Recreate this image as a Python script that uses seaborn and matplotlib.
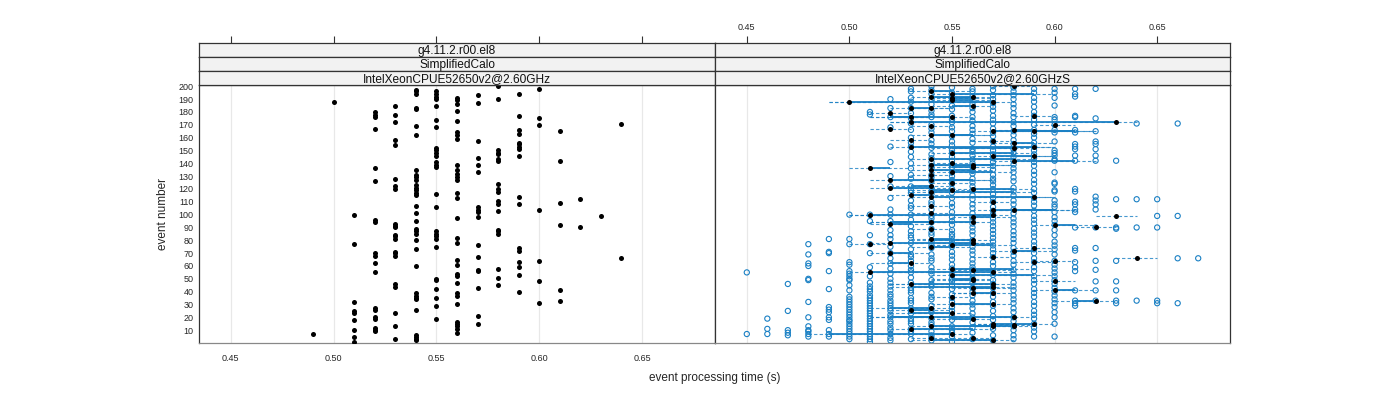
import pandas as pd
import seaborn as sns
import matplotlib.pyplot as plt

# ---- reference host (left panel): event numbers seen at each time column ----
left_times = [0.49, 0.50, 0.51, 0.52, 0.53, 0.54, 0.55, 0.56,
              0.57, 0.58, 0.59, 0.60, 0.61, 0.62, 0.63, 0.64]
left_events = [
    [7],
    [188],
    [100, 77, 32, 25, 23, 18, 10, 5, 1],
    [180, 178, 176, 167, 136, 126, 96, 94, 70, 68, 62, 55, 27, 26, 20, 19, 12, 10, 9],
    [185, 178, 172, 158, 154, 128, 122, 120, 93, 91, 90, 84, 83, 81, 71, 70, 68, 46, 44, 23, 13, 3],
    [197, 196, 194, 183, 182, 169, 162, 135, 131, 129, 127, 123, 121, 119, 117, 115, 107, 101,
     95, 89, 87, 85, 80, 73, 60, 39, 37, 35, 34, 26, 6, 5, 3, 2],
    [196, 194, 192, 190, 185, 174, 168, 152, 150, 148, 146, 141, 139, 137, 116, 106,
     87, 85, 83, 81, 75, 50, 49, 42, 35, 29, 19],
    [191, 189, 186, 181, 173, 164, 162, 159, 139, 135, 132, 129, 127, 117, 113, 97,
     82, 78, 65, 61, 54, 52, 47, 39, 37, 30, 16, 15, 13, 11, 8],
    [193, 187, 157, 144, 139, 133, 106, 104, 102, 98, 76, 67, 57, 56, 43, 21, 15],
    [200, 190, 150, 148, 147, 143, 142, 124, 120, 118, 111, 108, 103, 88, 87, 85, 58, 51, 45],
    [194, 177, 166, 163, 156, 155, 153, 151, 146, 114, 108, 74, 72, 63, 59, 53, 40],
    [198, 175, 170, 104, 64, 48, 31],
    [165, 142, 109, 92, 41, 33],
    [112, 90],
    [99],
    [171, 66],
]

# ---- second host (right panel): individual runs (open circles) ----
run_times = [0.45, 0.46, 0.47, 0.48, 0.49, 0.50, 0.51, 0.52, 0.53, 0.54, 0.55, 0.56,
             0.57, 0.58, 0.59, 0.60, 0.61, 0.62, 0.63, 0.64, 0.65, 0.66, 0.67]
run_events = [
    [55, 7],
    [19, 11, 7],
    [46, 25, 10, 8, 6],
    [77, 69, 62, 60, 50, 49, 32, 20, 13, 10, 9, 7, 5],
    [81, 71, 70, 56, 42, 28, 26, 24, 20, 18, 10, 7, 5],
    [100, 81, 77, 63, 61, 56, 54, 52, 50, 49, 45, 41, 36, 34, 32, 30, 28, 26, 24, 22, 20,
     18, 17, 15, 13, 11, 9, 7, 5, 3],
    [180, 178, 100, 95, 84, 77, 70, 59, 52, 47, 44, 42, 40, 37, 35, 33, 31, 29, 27, 25, 23,
     21, 19, 17, 15, 13, 11, 9, 7, 5, 3, 1],
    [190, 183, 176, 168, 153, 141, 130, 122, 113, 104, 100, 95, 88, 84, 81, 75, 70, 66, 62,
     58, 54, 50, 47, 44, 41, 38, 36, 33, 31, 29, 27, 25, 22, 20, 17, 15, 12, 10, 7, 4, 2],
    [198, 196, 191, 188, 183, 179, 175, 171, 166, 160, 156, 153, 149, 145, 140, 136, 131,
     128, 122, 119, 117, 111, 107, 105, 100, 96, 91, 87, 84, 82, 78, 73, 69, 67, 64, 60, 57,
     55, 51, 47, 43, 41, 39, 35, 33, 31, 27, 25, 23, 19, 17, 15, 11, 9, 7, 3],
    [200, 197, 194, 190, 186, 181, 178, 176, 170, 167, 164, 158, 155, 152, 147, 144, 141,
     138, 136, 131, 129, 126, 121, 118, 116, 110, 108, 104, 99, 97, 94, 89, 86, 84, 79, 76,
     74, 69, 66, 64, 59, 56, 54, 49, 46, 44, 39, 36, 34, 29, 26, 24, 19, 16, 14, 9, 6, 4, 2],
    [199, 195, 192, 189, 185, 182, 177, 174, 172, 168, 165, 161, 157, 154, 150, 148, 145,
     142, 139, 137, 133, 130, 127, 124, 120, 117, 113, 109, 106, 102, 98, 95, 92, 88, 85, 83,
     80, 77, 75, 71, 68, 65, 61, 58, 53, 50, 48, 45, 42, 38, 35, 32, 28, 25, 21, 18, 13, 10,
     8, 5, 1],
    [198, 196, 192, 189, 186, 183, 180, 176, 173, 169, 166, 163, 159, 156, 151, 149, 146,
     143, 140, 137, 134, 132, 128, 125, 122, 119, 115, 112, 108, 105, 101, 98, 96, 93, 90,
     87, 84, 80, 78, 75, 72, 69, 65, 62, 59, 57, 53, 50, 47, 43, 40, 37, 33, 30, 27, 23, 20,
     16, 12, 8, 3],
    [200, 197, 193, 190, 187, 184, 181, 177, 174, 171, 167, 164, 161, 157, 153, 150, 147,
     144, 141, 138, 135, 131, 128, 126, 123, 120, 116, 113, 110, 106, 103, 100, 97, 94, 91,
     88, 85, 82, 79, 76, 73, 70, 67, 63, 60, 56, 53, 49, 46, 43, 39, 36, 32, 29, 25, 21, 18,
     14, 11, 6, 2],
    [199, 196, 193, 190, 186, 183, 179, 176, 172, 169, 165, 162, 158, 155, 151, 148, 145,
     142, 139, 136, 133, 129, 126, 121, 118, 115, 111, 108, 104, 101, 97, 94, 91, 87, 84, 81,
     78, 74, 71, 68, 64, 61, 57, 54, 51, 47, 44, 41, 37, 34, 31, 27, 24, 20, 17, 13, 10, 6, 3],
    [198, 195, 191, 188, 184, 180, 177, 174, 170, 166, 163, 160, 156, 153, 150, 147, 144,
     141, 138, 134, 131, 127, 124, 120, 117, 113, 110, 107, 103, 99, 96, 93, 89, 86, 83, 79,
     76, 73, 70, 66, 63, 59, 56, 52, 49, 46, 42, 39, 36, 32, 29, 25, 22, 19, 15, 12, 9, 5],
    [198, 195, 191, 185, 176, 174, 170, 166, 164, 157, 150, 148, 146, 143, 142, 133, 125,
     124, 119, 118, 111, 108, 106, 102, 98, 95, 92, 88, 84, 79, 76, 73, 69, 64, 61, 58, 55,
     52, 49, 46, 43, 40, 37, 34, 31, 28, 24, 20, 15, 5],
    [198, 194, 192, 177, 176, 166, 164, 155, 153, 151, 146, 142, 120, 118, 110, 108, 104,
     102, 90, 74, 72, 63, 59, 56, 41, 33, 31, 29],
    [198, 175, 165, 157, 155, 151, 146, 142, 114, 111, 108, 104, 90, 74, 64, 57, 48, 41, 33],
    [142, 112, 90, 89, 64, 48, 41, 33, 31],
    [171, 112, 90, 33],
    [112, 99, 90, 33, 31],
    [171, 99, 66, 31],
    [66],
]

# ---- second host (right panel): highlighted run (filled dots) ----
mark_times = [0.50, 0.51, 0.52, 0.53, 0.54, 0.55, 0.56, 0.57,
              0.58, 0.59, 0.60, 0.62, 0.63, 0.64]
mark_events = [
    [188],
    [136, 100, 77, 55],
    [179, 167, 127, 121, 93, 78, 70],
    [183, 176, 172, 158, 153, 115, 62, 46, 26, 11],
    [196, 192, 183, 169, 162, 143, 139, 135, 131, 127, 122, 118, 114, 107, 101, 94, 89,
     81, 75, 27, 20, 13, 4],
    [194, 191, 189, 176, 162, 148, 140, 133, 125, 119, 76, 58, 53, 36, 30, 23, 7],
    [192, 185, 139, 137, 120, 98, 94, 80, 78, 57, 50, 49, 43, 39, 19, 4],
    [188, 165, 157, 146, 110, 104, 100, 67, 55, 46, 44, 39, 30, 15, 13, 2],
    [200, 166, 156, 152, 142, 104, 72, 20, 14, 13],
    [177, 165, 153, 146, 114, 74, 63, 15],
    [170, 92, 64, 48, 41],
    [90, 33],
    [172, 99],
    [66],
]

strip_labels = ["g4.11.2.r00.el8", "SimplifiedCalo"]
host_labels = ["IntelXeonCPUE52650v2@2.60GHz", "IntelXeonCPUE52650v2@2.60GHzS"]
xticks = [0.45, 0.50, 0.55, 0.60, 0.65]
yticks = list(range(10, 201, 10))


def to_frame(times, events):
    rows = [(t, e) for t, evs in zip(times, events) for e in evs]
    return pd.DataFrame(rows, columns=["time", "event"])


left_df = to_frame(left_times, left_events)
run_df = to_frame(run_times, run_events)
mark_df = to_frame(mark_times, mark_events)

# per-event segments: solid = highlighted run vs reference, dashed = +/- one step around it
ref = dict(zip(left_df["event"], left_df["time"]))
seg = mark_df.copy()
seg["ref"] = seg["event"].map(ref).fillna(seg["time"])
seg["lo"] = seg[["time", "ref"]].min(axis=1)
seg["hi"] = seg[["time", "ref"]].max(axis=1)

sns.set_style("white")
plt.rcParams["font.family"] = ["Liberation Sans", "DejaVu Sans"]

BLUE = "#1a80c4"
XLIM = (0.4345, 0.6855)
YLIM = (0, 201)

fig = plt.figure(figsize=(14, 4), dpi=100)
W, H = 1400, 400


def box(x0, y0, x1, y1):
    return [x0 / W, 1 - y1 / H, (x1 - x0) / W, (y1 - y0) / H]


panels = []
for i, (x0, x1) in enumerate([(199, 715), (715, 1230)]):
    ax = fig.add_axes(box(x0, 85, x1, 343))
    ax.set_xlim(*XLIM)
    ax.set_ylim(*YLIM)
    for v in xticks:
        ax.axvline(v, color="#e8e8e8", lw=0.9, zorder=0)
    for sp in ax.spines.values():
        sp.set_color("#333333")
        sp.set_linewidth(0.9)
    ax.spines["bottom"].set_color("#888888")
    ax.set_xticks(xticks)
    ax.tick_params(axis="x", direction="out", length=5, width=0.8, color="#333333",
                   labelsize=6.5, pad=3, labelbottom=(i == 0))
    if i == 0:
        ax.set_yticks(yticks)
        ax.tick_params(axis="y", length=0, labelsize=6.5, pad=4)
    else:
        ax.set_yticks([])
    panels.append(ax)

    # strips
    for k, (sy0, sy1) in enumerate([(43, 57), (57, 71), (71, 85)]):
        sax = fig.add_axes(box(x0, sy0, x1, sy1))
        sax.set_facecolor("#f2f2f2")
        sax.set_xlim(*XLIM)
        sax.set_yticks([])
        for sp in sax.spines.values():
            sp.set_color("#333333")
            sp.set_linewidth(0.9)
        label = strip_labels[k] if k < 2 else host_labels[i]
        sax.text(0.5, 0.45, label, transform=sax.transAxes, ha="center", va="center",
                 fontsize=8.6, color="#111111")
        if k == 0:
            sax.set_xticks(xticks)
            sax.tick_params(axis="x", bottom=False, labelbottom=False, top=True,
                            labeltop=(i == 1), direction="out", length=5, width=0.8,
                            color="#333333", labelsize=6.5, pad=3)
        else:
            sax.set_xticks([])

left_ax, right_ax = panels

# left panel: one dot per event
sns.scatterplot(data=left_df, x="time", y="event", ax=left_ax, color="black",
                s=13, linewidth=0, zorder=3, legend=False)

# right panel
right_ax.hlines(seg["event"], seg["lo"] - 0.01, seg["hi"] + 0.01, colors=BLUE,
                linestyles=(0, (3, 2)), linewidth=0.8, alpha=0.8, zorder=1)
right_ax.hlines(seg["event"], seg["lo"], seg["hi"], colors=BLUE, linewidth=1.3, zorder=2)
sns.scatterplot(data=run_df, x="time", y="event", ax=right_ax, marker="o",
                facecolor="none", edgecolor=BLUE, s=14, linewidth=0.8, zorder=3,
                legend=False)
sns.scatterplot(data=mark_df, x="time", y="event", ax=right_ax, color="black",
                s=13, linewidth=0, zorder=4, legend=False)
for ax in panels:
    ax.set_xlabel("")
    ax.set_ylabel("")

fig.text(715 / W, 1 - 378 / H, "event processing time (s)", ha="center", va="center",
         fontsize=8.5)
fig.text(163 / W, 1 - 214 / H, "event number", ha="center", va="center",
         rotation=90, fontsize=8.5)

fig.savefig("out.png", dpi=100)
